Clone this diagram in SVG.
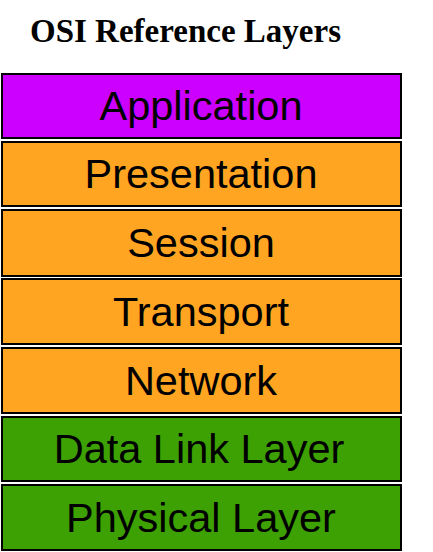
<svg xmlns="http://www.w3.org/2000/svg" width="433" height="552" viewBox="0 0 433 552">
<style>
.box{stroke:#000;stroke-width:2}
.lbl{font-family:"Liberation Sans",Arial,sans-serif;font-size:41.5px;fill:#000;text-anchor:middle}
.purple{fill:#CC00FF}
.orange{fill:#FFA521}
.green{fill:#3DA003}
</style>
<rect width="433" height="552" fill="#fff"/>
<text x="30" y="42" font-family="'Liberation Serif','Times New Roman',serif" font-weight="bold" font-size="33">OSI Reference Layers</text>
<g id="application"><rect class="box purple" x="2" y="74" width="399" height="64"/><text class="lbl" x="201" y="120">Application</text></g>
<g id="presentation"><rect class="box orange" x="2" y="142" width="399" height="64"/><text class="lbl" x="201" y="188">Presentation</text></g>
<g id="session"><rect class="box orange" x="2" y="210" width="399" height="66"/><text class="lbl" x="201" y="257">Session</text></g>
<g id="transport"><rect class="box orange" x="2" y="279" width="399" height="65"/><text class="lbl" x="201" y="326">Transport</text></g>
<g id="network"><rect class="box orange" x="2" y="348" width="399" height="65"/><text class="lbl" x="201" y="395">Network</text></g>
<g id="datalink"><rect class="box green" x="2" y="417" width="399" height="64"/><text class="lbl" x="199" y="463" font-size="41">Data Link Layer</text></g>
<g id="physical"><rect class="box green" x="2" y="485" width="399" height="65"/><text class="lbl" x="201" y="532">Physical Layer</text></g>
<g id="connectors"></g>
</svg>
